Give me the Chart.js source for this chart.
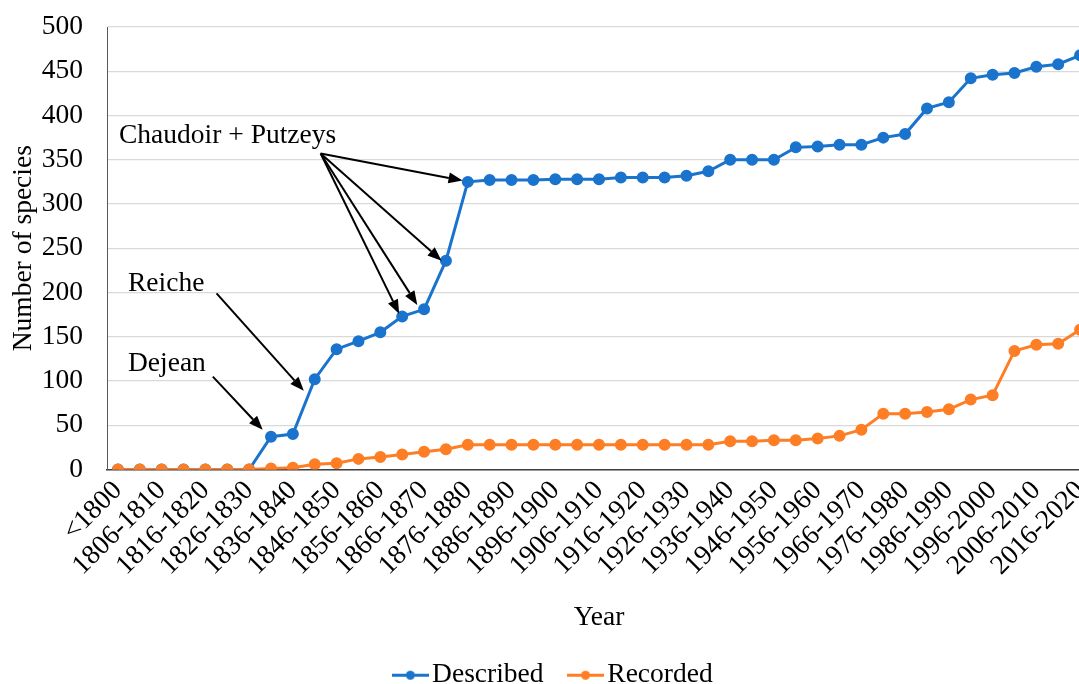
<!DOCTYPE html>
<html>
<head>
<meta charset="utf-8">
<script src="https://cdn.jsdelivr.net/npm/chart.js@4/dist/chart.umd.min.js"></script>
<style>
    html, body { margin: 0; padding: 0; background: #fff; overflow: hidden; }
    #wrap { width: 1079px; height: 684px; overflow: hidden; }
</style>
</head>
<body>
<div id="wrap"><canvas id="chart" width="1104" height="699"></canvas></div>
<script>
// 5-year periods
const years = ['<1800', '1801-1805', '1806-1810', '1811-1815', '1816-1820', '1821-1825', '1826-1830',
    '1831-1835', '1836-1840', '1841-1845', '1846-1850', '1851-1855', '1856-1860', '1861-1865',
    '1866-1870', '1871-1875', '1876-1880', '1881-1885', '1886-1890', '1891-1895', '1896-1900',
    '1901-1905', '1906-1910', '1911-1915', '1916-1920', '1921-1925', '1926-1930', '1931-1935',
    '1936-1940', '1941-1945', '1946-1950', '1951-1955', '1956-1960', '1961-1965', '1966-1970',
    '1971-1975', '1976-1980', '1981-1985', '1986-1990', '1991-1995', '1996-2000', '2001-2005',
    '2006-2010', '2011-2015', '2016-2020'];

const described = [0, 0, 0, 0, 0, 0, 0, 37, 40, 102, 136, 145, 155, 173, 181, 236,
    325, 327, 327, 327, 328, 328, 328, 330, 330, 330, 332, 337, 350, 350, 350,
    364, 365, 367, 367, 375, 379, 408, 415, 442, 446, 448, 455, 458, 468];

const recorded = [0, 0, 0, 0, 0, 0, 0, 1, 2, 6, 7, 12, 14, 17, 20, 23,
    28, 28, 28, 28, 28, 28, 28, 28, 28, 28, 28, 28, 32, 32, 33,
    33, 35, 38, 45, 63, 63, 65, 68, 79, 84, 134, 141, 142, 158];

const yTicks = [0, 50, 100, 150, 200, 250, 300, 350, 400, 450, 500];

// labels and arrows, in data units (category index, species)
const notes = [
    { text: 'Chaudoir + Putzeys', at: [0.05, 377],
      arrows: [[9.27, 357, 15.76, 326.5], [9.27, 357, 14.8, 236], [9.27, 357, 13.69, 186], [9.27, 357, 12.86, 176]] },
    { text: 'Reiche', at: [0.46, 210], arrows: [[4.51, 199, 8.5, 89]] },
    { text: 'Dejean', at: [0.46, 119], arrows: [[4.34, 105, 6.62, 45]] }
];

const BLUE = '#1a73cc';
const ORANGE = '#fd7e25';
const FONT = 'Liberation Serif';
const FSIZE = 27.5;

function legendMarker(color) {
    const c = document.createElement('canvas');
    c.width = 37; c.height = 11;
    const g = c.getContext('2d');
    g.strokeStyle = color;
    g.lineWidth = 3;
    g.beginPath(); g.moveTo(0, 5.5); g.lineTo(37, 5.5); g.stroke();
    g.fillStyle = color;
    g.beginPath(); g.arc(18.5, 5.5, 4.5, 0, Math.PI * 2); g.fill();
    return c;
}

const notesPlugin = {
    id: 'notes',
    afterDatasetsDraw(chart) {
        const ctx = chart.ctx;
        const x = chart.scales.x, y = chart.scales.y;
        ctx.save();
        ctx.fillStyle = '#000';
        ctx.strokeStyle = '#000';
        ctx.font = FSIZE + 'px "' + FONT + '"';
        ctx.textAlign = 'left';
        ctx.textBaseline = 'middle';
        notes.forEach(n => {
            ctx.fillText(n.text, x.getPixelForValue(n.at[0]), y.getPixelForValue(n.at[1]));
            n.arrows.forEach(a => {
                const x0 = x.getPixelForValue(a[0]), y0 = y.getPixelForValue(a[1]);
                const x1 = x.getPixelForValue(a[2]), y1 = y.getPixelForValue(a[3]);
                const ang = Math.atan2(y1 - y0, x1 - x0);
                const head = 14, half = 5.5;
                const bx = x1 - head * Math.cos(ang), by = y1 - head * Math.sin(ang);
                ctx.lineWidth = 2;
                ctx.beginPath(); ctx.moveTo(x0, y0); ctx.lineTo(bx, by); ctx.stroke();
                ctx.beginPath();
                ctx.moveTo(x1, y1);
                ctx.lineTo(bx + half * Math.sin(ang), by - half * Math.cos(ang));
                ctx.lineTo(bx - half * Math.sin(ang), by + half * Math.cos(ang));
                ctx.closePath();
                ctx.fill();
            });
        });
        ctx.restore();
    }
};

Chart.defaults.font.family = FONT;
Chart.defaults.font.size = FSIZE;
Chart.defaults.color = '#000';

new Chart(document.getElementById('chart'), {
    type: 'line',
    data: {
        labels: years,
        datasets: [
            { label: 'Described', data: described, borderColor: BLUE, backgroundColor: BLUE,
              borderWidth: 3, pointRadius: 4.5, pointHoverRadius: 4.5, order: 2 },
            { label: 'Recorded', data: recorded, borderColor: ORANGE, backgroundColor: ORANGE,
              borderWidth: 3, pointRadius: 4.5, pointHoverRadius: 4.5, order: 1 }
        ]
    },
    options: {
        responsive: false,
        animation: false,
        layout: { padding: { top: 27, left: 24, right: 13, bottom: 0 } },
        plugins: {
            tooltip: { enabled: false },
            legend: {
                position: 'bottom',
                labels: {
                    usePointStyle: true,
                    pointStyleWidth: 16,
                    padding: 34,
                    generateLabels(chart) {
                        return chart.data.datasets.map((ds, i) => ({
                            text: ds.label,
                            pointStyle: legendMarker(ds.borderColor),
                            fillStyle: ds.borderColor,
                            strokeStyle: ds.borderColor,
                            lineWidth: 0,
                            hidden: false,
                            datasetIndex: i
                        }));
                    }
                }
            }
        },
        scales: {
            x: {
                offset: true,
                grid: { display: false },
                border: { display: true, color: '#404040', width: 1.5 },
                ticks: {
                    autoSkip: false,
                    minRotation: 45,
                    maxRotation: 45,
                    padding: -3,
                    callback: (v, i) => i % 2 === 0 ? years[i] : ''
                },
                title: { display: true, text: 'Year', padding: { top: 0, bottom: -7 } },
                afterFit: s => { s.height = 158; }
            },
            y: {
                min: 0,
                max: 500,
                afterBuildTicks: s => { s.ticks = yTicks.map(v => ({ value: v })); },
                grid: { color: '#d9d9d9', lineWidth: 1.3, drawTicks: false },
                border: { display: true, color: '#595959', width: 1 },
                ticks: { padding: 24 },
                title: { display: true, text: 'Number of species', padding: { top: -17, bottom: 0 } },
                afterFit: s => { s.width = 83; s.paddingTop = 0; s.paddingBottom = 0; }
            }
        }
    },
    plugins: [notesPlugin]
});
</script>
</body>
</html>
